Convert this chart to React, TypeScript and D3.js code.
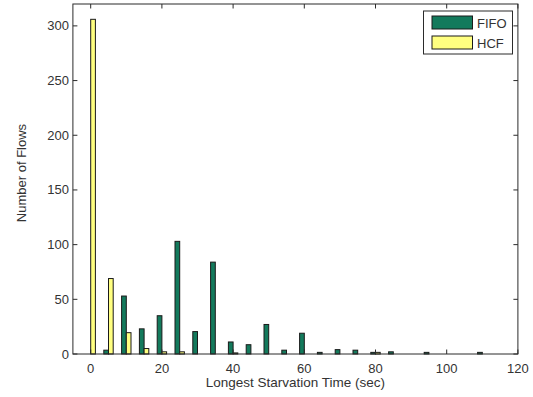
import { useRef, useEffect } from 'react';
import * as d3 from 'd3';

const bins = [0, 5, 10, 15, 20, 25, 30, 35, 40, 45, 50, 55, 60, 65, 70, 75, 80, 85, 90, 95, 100, 105, 110];
const fifo = [0, 3.5, 53, 23, 35, 103, 20.5, 84, 11, 8.5, 27, 3.5, 19, 1.5, 4, 3.5, 1.5, 2, 0, 1.5, 0, 0, 1.5];
const hcf = [306, 69, 19.5, 5, 2, 2, 0, 0, 1, 0, 0, 0, 0, 0, 0, 0, 1.5, 0, 0, 0, 0, 0, 0];
const xTicks = [0, 20, 40, 60, 80, 100, 120];
const yTicks = [0, 50, 100, 150, 200, 250, 300];
const seriesNames = ['FIFO', 'HCF'];
const seriesColors = ['#137a5c', '#ffff80'];

const W = 533;
const H = 397;
const BAR_W = 1.32;

export default function App() {
  const svgRef = useRef<SVGSVGElement>(null);

  useEffect(() => {
    const svg = d3.select(svgRef.current);
    svg.selectAll('*').remove();

    const x = d3.scaleLinear().domain([-5, 120]).range([72.9, 517.9]);
    const y = d3.scaleLinear().domain([0, 320]).range([354, 4]);
    const font = 'Liberation Sans, Arial, sans-serif';

    svg.append('rect').attr('width', W).attr('height', H).attr('fill', '#fff');

    // bars
    const series = [fifo, hcf];
    series.forEach((vals, si) => {
      bins.forEach((b, i) => {
        const v = vals[i];
        if (v <= 0) return;
        const x0 = si === 0 ? x(b - BAR_W) : x(b);
        const x1 = si === 0 ? x(b) : x(b + BAR_W);
        svg
          .append('rect')
          .attr('x', x0)
          .attr('y', y(v))
          .attr('width', x1 - x0)
          .attr('height', y(0) - y(v))
          .attr('fill', seriesColors[si])
          .attr('stroke', '#1a1a1a')
          .attr('stroke-width', 1);
      });
    });

    // axes box
    const [l, r] = x.range();
    const [b, t] = y.range();
    svg
      .append('rect')
      .attr('x', l)
      .attr('y', t)
      .attr('width', r - l)
      .attr('height', b - t)
      .attr('fill', 'none')
      .attr('stroke', '#2b2b2b')
      .attr('stroke-width', 1);

    const tk = 4.5;
    xTicks.forEach((v) => {
      svg.append('line').attr('x1', x(v)).attr('x2', x(v)).attr('y1', b).attr('y2', b - tk).attr('stroke', '#2b2b2b');
      svg.append('line').attr('x1', x(v)).attr('x2', x(v)).attr('y1', t).attr('y2', t + tk).attr('stroke', '#2b2b2b');
      svg
        .append('text')
        .attr('x', x(v))
        .attr('y', b + 19)
        .attr('text-anchor', 'middle')
        .attr('font-family', font)
        .attr('font-size', 13)
        .attr('fill', '#333')
        .text(v);
    });
    yTicks.forEach((v) => {
      svg.append('line').attr('x1', l).attr('x2', l + tk).attr('y1', y(v)).attr('y2', y(v)).attr('stroke', '#2b2b2b');
      svg.append('line').attr('x1', r).attr('x2', r - tk).attr('y1', y(v)).attr('y2', y(v)).attr('stroke', '#2b2b2b');
      svg
        .append('text')
        .attr('x', l - 4)
        .attr('y', y(v) + 4.5)
        .attr('text-anchor', 'end')
        .attr('font-family', font)
        .attr('font-size', 13)
        .attr('fill', '#333')
        .text(v);
    });

    svg
      .append('text')
      .attr('x', (l + r) / 2)
      .attr('y', 387)
      .attr('text-anchor', 'middle')
      .attr('font-family', font)
      .attr('font-size', 13.5)
      .attr('fill', '#333')
      .text('Longest Starvation Time (sec)');
    svg
      .append('text')
      .attr('transform', `translate(26,${(t + b) / 2 - 6}) rotate(-90)`)
      .attr('text-anchor', 'middle')
      .attr('font-family', font)
      .attr('font-size', 13)
      .attr('fill', '#333')
      .text('Number of Flows');

    // legend
    const lg = svg.append('g');
    lg.append('rect')
      .attr('x', 423.5)
      .attr('y', 11)
      .attr('width', 89)
      .attr('height', 43)
      .attr('fill', '#fff')
      .attr('stroke', '#2b2b2b');
    seriesNames.forEach((name, i) => {
      const yy = 16 + i * 20;
      lg.append('rect')
        .attr('x', 432)
        .attr('y', yy)
        .attr('width', 40.5)
        .attr('height', 13)
        .attr('fill', seriesColors[i])
        .attr('stroke', '#1a1a1a');
      lg.append('text')
        .attr('x', 477)
        .attr('y', yy + 11.5)
        .attr('font-family', font)
        .attr('font-size', 13)
        .attr('fill', '#333')
        .text(name);
    });
  }, []);

  return (
    <div style={{ position: 'absolute', left: 0, top: 0 }}>
      <svg ref={svgRef} width={W} height={H} style={{ display: 'block' }} />
    </div>
  );
}
